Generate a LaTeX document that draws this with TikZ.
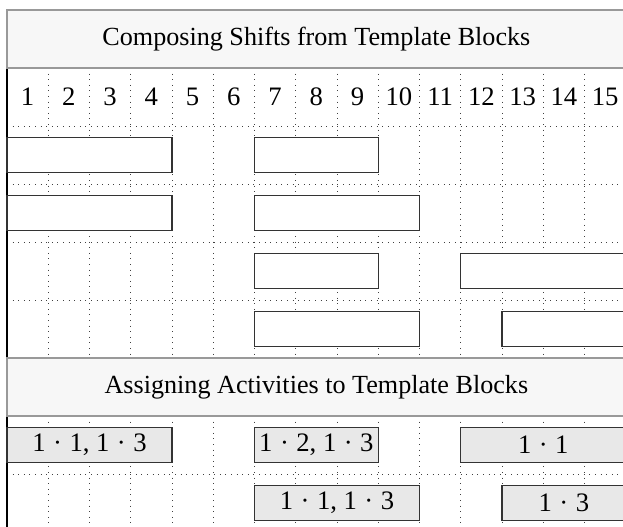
\documentclass[tikz,border=0pt]{standalone}
\usepackage{fontspec}
\setmainfont{Liberation Serif}
\newcommand{\actdot}{\hspace{0.28em}·\hspace{0.28em}}
\begin{document}
\begin{tikzpicture}[x=30.9375pt, y=-43.5pt, font=\fontsize{20}{24}\selectfont]
\tikzset{
  gridline/.style={black!75, line width=0.6pt, dash pattern=on 0.6pt off 3.6pt},
  hdr/.style={fill=black!3, draw=black!40, line width=0.8pt},
  blk/.style={draw=black!80, line width=0.8pt, fill=white},
  actblk/.style={draw=black!80, line width=0.8pt, fill=black!9},
}
\useasboundingbox (-0.1697,-1.1724) rectangle (14.933,7.8966);
\clip (-0.1697,-1.1724) rectangle (14.933,7.8966);
% grid
\foreach \x in {1,...,14} {
  \draw[gridline] (\x,0) -- (\x,5);
  \draw[gridline] (\x,6) -- (\x,8);
}
\foreach \y in {1,2,3,4,7} \draw[gridline] (0,\y) -- (15,\y);
\draw[line width=1pt] (0,0) -- (0,5) (0,6) -- (0,8);
% headers
\filldraw[hdr] (0,-1) rectangle (15.2,0);
\node[font=\fontsize{19.6}{24}\selectfont] (hdr1) at (7.5,-0.5) {Composing Shifts from Template Blocks};
\filldraw[hdr] (0,5) rectangle (15.2,6);
\node[font=\fontsize{19.6}{24}\selectfont] (hdr2) at (7.5,5.5) {Assigning Activities to Template Blocks};
% time slots
\foreach \i in {1,...,15} \node (n\i) at (\i-0.5,0.5) {\i};
% template blocks
\foreach \r/\a/\b in {1/0/4, 1/6/9, 2/0/4, 2/6/10, 3/6/9, 3/11/15, 4/6/10, 4/12/15}
  \draw[blk] (\a,\r+0.2) rectangle (\b,\r+0.8);
% activities
\draw[actblk] (0,6.2) rectangle node (a1) {1\actdot1, 1\actdot3} (4,6.8);
\draw[actblk] (6,6.2) rectangle node (a2) {1\actdot2, 1\actdot3} (9,6.8);
\draw[actblk] (11,6.2) rectangle node (a3) {1\actdot1} (15,6.8);
\draw[actblk] (6,7.2) rectangle node (b1) {1\actdot1, 1\actdot3} (10,7.8);
\draw[actblk] (12,7.2) rectangle node (b2) {1\actdot3} (15,7.8);
\end{tikzpicture}
\end{document}
